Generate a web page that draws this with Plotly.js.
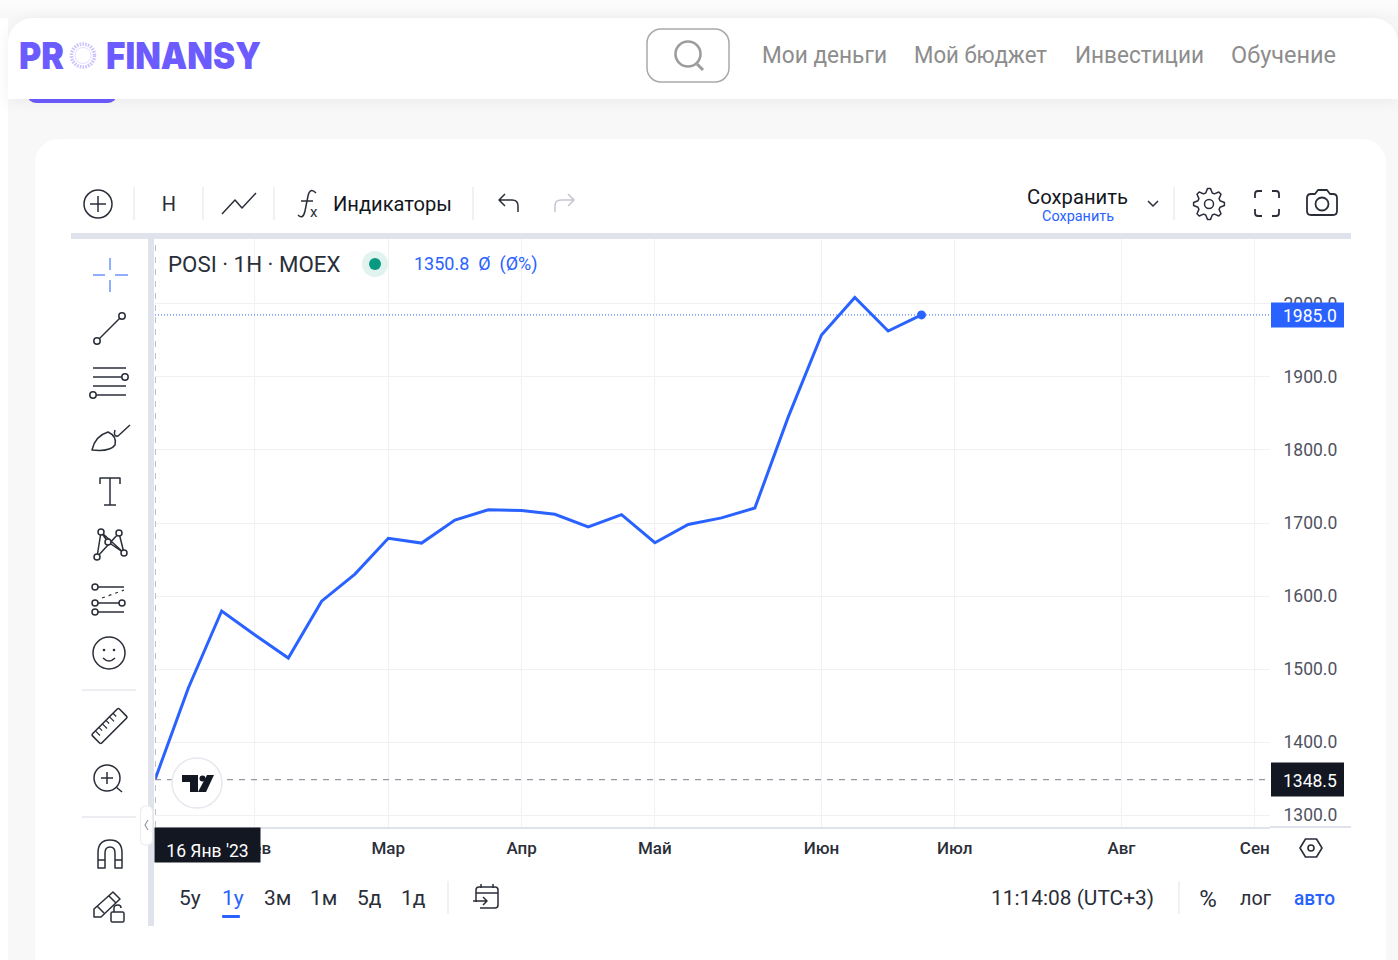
<!DOCTYPE html>
<html lang="ru">
<head>
<meta charset="utf-8">
<title>POSI · 1H · MOEX</title>
<script src="https://cdn.plot.ly/plotly-3.0.1.min.js"></script>
<style>
html,body{margin:0;padding:0;background:#fff;width:1398px;height:960px;overflow:hidden}
#bg,#fg,#chart{position:absolute;left:0;top:0;width:1398px;height:960px}
#fg{pointer-events:none}
svg text{font-family:Roboto,sans-serif}
</style>
</head>
<body>
<svg id="bg" viewBox="0 0 1398 960">
  <defs>
    <filter id="sh" x="-5%" y="-30%" width="110%" height="170%"><feDropShadow dx="0" dy="2" stdDeviation="7" flood-color="#000" flood-opacity="0.06"/></filter>
    <linearGradient id="topfade" x1="0" y1="0" x2="0" y2="1"><stop offset="0" stop-color="#fdfdfd"/><stop offset="1" stop-color="#f7f7f7"/></linearGradient>
  </defs>
  <rect x="8" y="0" width="1390" height="960" fill="#f8f8f8"/>
  <rect x="0" y="0" width="1398" height="18" fill="url(#topfade)"/>
  <rect x="27" y="85" width="90" height="18" rx="9" fill="#6c5bff"/>
  <path d="M8 99V43a25 25 0 0 1 25-25H1373a25 25 0 0 1 25 25V99Z" fill="#fff" filter="url(#sh)"/>
  <rect x="35" y="139" width="1351" height="850" rx="24" fill="#fff"/>
</svg>
<div id="chart"></div>
<svg id="fg" viewBox="0 0 1398 960"></svg>
<script>
// ---- chart data (weekly closes) ----
const dates = ["2023-01-16","2023-01-23","2023-01-30","2023-02-06","2023-02-13","2023-02-20","2023-02-27",
  "2023-03-06","2023-03-13","2023-03-20","2023-03-27","2023-04-03","2023-04-10","2023-04-17","2023-04-24",
  "2023-05-01","2023-05-08","2023-05-15","2023-05-22","2023-05-29","2023-06-05","2023-06-12","2023-06-19","2023-06-26"];
const closes = [1348.5,1474,1579.5,1546.5,1515,1593,1630,1679,1672.5,1704,1718,1717,1712,1694.5,1711.5,1673,1698,1707,1720.5,1845,1957.5,2009,1963,1985];
const monthTickDates = ["2023-02-06","2023-03-06","2023-04-03","2023-05-01","2023-06-05","2023-07-03","2023-08-07","2023-09-04"];
const monthTickLabels = ["Фев","Мар","Апр","Май","Июн","Июл","Авг","Сен"];
const priceTicks = [1300,1400,1500,1600,1700,1800,1900,2000];
const lastPrice = 1985;
const basePrice = 1348.5;
const symbolLabel = "POSI · 1H · MOEX";
const quoteLabel = "1350.8  Ø  (Ø%)";
const cursorDateLabel = "16 Янв '23";

const BLUE = "#2962ff", DARK = "#131722", FONT = "Roboto, sans-serif";
const first = dates[0], last = dates[dates.length - 1];

function priceTag(value, halfHeight, color) {
  return {type: "rect", layer: "above", xref: "paper", xsizemode: "pixel", xanchor: 1, x0: 1, x1: 74,
    yref: "y", ysizemode: "pixel", yanchor: value, y0: -halfHeight, y1: halfHeight,
    fillcolor: color, line: {width: 0}};
}
function priceText(value) {
  return {xref: "paper", yref: "y", x: 1, xshift: 40, y: value, yshift: -1, xanchor: "center", yanchor: "middle", text: value.toFixed(1),
    showarrow: false, font: {family: FONT, size: 17.5, color: "#fff"}};
}

const traces = [
  {x: dates, y: closes, type: "scatter", mode: "lines", line: {color: BLUE, width: 3, shape: "linear"}, hoverinfo: "x+y", cliponaxis: false},
  {x: [last], y: [lastPrice], type: "scatter", mode: "markers", marker: {color: BLUE, size: 9}, hoverinfo: "skip", cliponaxis: false}
];
const layout = {
  width: 1398, height: 960, autosize: false,
  margin: {l: 155, r: 128, t: 239, b: 133, pad: 0},
  paper_bgcolor: "rgba(0,0,0,0)", plot_bgcolor: "rgba(0,0,0,0)",
  showlegend: false, hovermode: false,
  font: {family: FONT, color: DARK},
  xaxis: {
    type: "date", range: ["2023-01-16", "2023-09-07 05:00"], fixedrange: true,
    tickmode: "array", tickvals: monthTickDates, ticktext: monthTickLabels,
    tickfont: {family: FONT, size: 17, color: "#2a2e39", weight: 500},
    ticks: "outside", ticklen: 5, tickcolor: "rgba(0,0,0,0)",
    showgrid: true, gridcolor: "#f0f1f5", gridwidth: 1,
    showline: true, linecolor: "#e0e3eb", linewidth: 2, zeroline: false
  },
  yaxis: {
    side: "right", range: [1283.6, 2089], fixedrange: true,
    tickmode: "array", tickvals: priceTicks, tickformat: ".1f",
    tickfont: {family: FONT, size: 17.5, color: "#50535e"},
    ticks: "outside", ticklen: 9, tickcolor: "rgba(0,0,0,0)",
    showgrid: true, gridcolor: "#f0f1f5", gridwidth: 1, zeroline: false, showline: false
  },
  shapes: [
    {type: "line", xref: "paper", x0: 0, x1: 1, yref: "y", y0: lastPrice, y1: lastPrice, line: {color: BLUE, width: 1, dash: "1px,2px"}},
    {type: "line", xref: "paper", x0: 0, x1: 1, yref: "y", y0: basePrice, y1: basePrice, line: {color: "#9598a1", width: 1.2, dash: "6px,6px"}},
    {type: "line", xref: "x", x0: first, x1: first, yref: "paper", y0: 0, y1: 1, line: {color: "#9598a1", width: 1.2, dash: "6px,6px"}},
    priceTag(lastPrice, 12.5, BLUE),
    priceTag(basePrice, 17, DARK)
  ],
  annotations: [
    priceText(lastPrice),
    priceText(basePrice),
    {xref: "x", yref: "paper", x: first, xshift: -1, y: 0, yshift: 0, xanchor: "left", yanchor: "top", text: cursorDateLabel, showarrow: false,
     width: 103, height: 32, valign: "bottom", bgcolor: DARK, font: {family: FONT, size: 17.5, color: "#fff"}},
    {xref: "paper", yref: "paper", x: 0, xshift: 11, y: 1, yshift: -25, xanchor: "left", yanchor: "middle", text: symbolLabel, showarrow: false,
     font: {family: FONT, size: 22.3, color: "#2a2e39"}},
    {xref: "paper", yref: "paper", x: 0, xshift: 257, y: 1, yshift: -25, xanchor: "left", yanchor: "middle", text: quoteLabel.replace(/ /g, "&nbsp;"), showarrow: false,
     font: {family: FONT, size: 18, color: BLUE}}
  ]
};

// ---- surrounding interface, drawn as plain SVG ----
const I = "#2a2e39";
function t(x, y, s, size, color, anchor, extra) {
  return `<text x="${x}" y="${y}" font-size="${size}" fill="${color}" text-anchor="${anchor || "start"}" dominant-baseline="central" ${extra || ""}>${s}</text>`;
}
function line(a, b, c, d, col, w, extra) { return `<line x1="${a}" y1="${b}" x2="${c}" y2="${d}" stroke="${col || I}" stroke-width="${w || 1.5}" ${extra || ""}/>`; }
function circ(x, y, r, fill, stroke, w) { return `<circle cx="${x}" cy="${y}" r="${r}" fill="${fill || "#fff"}" stroke="${stroke || I}" stroke-width="${w || 1.5}"/>`; }
function p(d, stroke, w, fill) { return `<path d="${d}" fill="${fill || "none"}" stroke="${stroke || I}" stroke-width="${w || 1.5}" stroke-linejoin="round"/>`; }
function gear(cx, cy, r1, r2, n) {
  let d = "";
  for (let i = 0; i < n * 4; i++) {
    const a = (i - 0.5) * Math.PI * 2 / (n * 4), r = (i % 4 < 2) ? r2 : r1;
    d += (i ? "L" : "M") + (cx + r * Math.cos(a)).toFixed(1) + " " + (cy + r * Math.sin(a)).toFixed(1);
  }
  return d + "Z";
}
let h = "";
// logo
const LOGO = "#6c5bff";
h += t(19, 55, "PR", 37, LOGO, "start", 'font-weight="900" textLength="45" lengthAdjust="spacingAndGlyphs" style="font-family:Inter,Roboto,sans-serif"');
h += t(106, 55, "FINANSY", 37, LOGO, "start", 'font-weight="900" textLength="155" lengthAdjust="spacingAndGlyphs" style="font-family:Inter,Roboto,sans-serif"');
h += `<circle cx="83" cy="55.5" r="11.5" fill="none" stroke="#c9c2ff" stroke-width="3.5" stroke-dasharray="1.6 1.2"/><circle cx="83" cy="55.5" r="8" fill="none" stroke="#e2dfff" stroke-width="1"/>`;
// search
h += `<rect x="647" y="29" width="82" height="53" rx="14" fill="#fff" stroke="#a9a9a9" stroke-width="1.5"/>`;
h += circ(688, 54, 12.5, "none", "#9c9c9c", 2.6) + line(697, 64, 703, 70, "#9c9c9c", 3);
// nav
[["Мои деньги", 762, 125], ["Мой бюджет", 914, 133], ["Инвестиции", 1075, 129], ["Обучение", 1231, 105]].forEach(n => {
  h += t(n[1], 55, n[0], 24, "#8d8d8d", "start", `textLength="${n[2]}" lengthAdjust="spacingAndGlyphs"`);
});
// top toolbar
[134, 203, 274, 473, 1174].forEach(x => { h += line(x, 187, x, 220, "#e6e8ee", 1.2); });
h += circ(98, 204, 14, "none") + line(98, 196, 98, 212) + line(90, 204, 106, 204);
h += t(169, 204, "H", 20, I, "middle");
h += p("M222 214L235 200L242 208L256 193");
h += p("M316 193Q310 187 308 196L305 211Q303 220 298 215M301 201H313");
h += t(310, 212, "x", 15, I);
h += t(333, 204, "Индикаторы", 21, DARK, "start", 'textLength="119" lengthAdjust="spacingAndGlyphs"');
h += p("M518 212V206Q518 200 512 200H499M505 194L499 200L505 206");
h += p("M555 212V206Q555 200 561 200H574M568 194L574 200L568 206", "#c4c6cf");
h += t(1027, 197, "Сохранить", 21, DARK, "start", 'textLength="101" lengthAdjust="spacingAndGlyphs"');
h += t(1078, 216, "Сохранить", 15, BLUE, "middle", 'textLength="72" lengthAdjust="spacingAndGlyphs"');
h += p("M1148 201L1153 206L1158 201");
h += p(gear(1209, 204, 11.5, 15.5, 8)) + circ(1209, 204, 4.5, "none");
h += p("M1255 198V194Q1255 191 1258 191H1262M1272 191H1276Q1279 191 1279 194V198M1279 209V213Q1279 216 1276 216H1272M1262 216H1258Q1255 216 1255 213V209", I, 1.8);
h += p("M1307 198Q1307 194 1311 194H1315L1318 190H1327L1330 194H1333Q1337 194 1337 198V211Q1337 215 1333 215H1311Q1307 215 1307 211Z", I, 1.8) + circ(1322, 204, 6.5, "none", I, 1.8);
// frame bars
h += `<rect x="71" y="233" width="1280" height="6" fill="#e0e3eb"/>`;
h += `<rect x="148" y="239" width="6" height="687" fill="#e0e3eb"/>`;
h += line(1270, 827, 1351, 827, "#e0e3eb", 2);
// left toolbar
const C = "#6b93ff";
h += line(110, 258, 110, 270, C) + line(110, 280, 110, 292, C) + line(93, 275, 105, 275, C) + line(115, 275, 128, 275, C);
h += line(97, 341, 122, 316) + circ(97, 341, 3.2) + circ(122, 316, 3.2);
[368, 377, 386, 395].forEach(y => { h += line(93, y, 126, y); });
h += circ(125, 377, 3.2) + circ(93, 395, 3.2);
h += p("M92 450Q95 436 108 432Q117 436 115 445Q110 452 92 450Z") + p("M115 430Q113 437 118 436L130 425");
h += p("M100 484V478H120V484") + line(110, 478, 110, 505) + line(104, 505, 116, 505);
h += p("M97 557L101 532L124 553L119 533L97 557M101 532L108 542L124 553") ;
[[97, 557], [101, 532], [119, 533], [124, 553], [108, 542]].forEach(c => { h += circ(c[0], c[1], 3); });
h += line(95, 587, 124, 587) + line(95, 603, 123, 603) + line(95, 612, 124, 612) + line(102, 598, 124, 590, I, 1.2, 'stroke-dasharray="3 4"');
h += circ(95, 587, 3) + circ(95, 603, 3) + circ(122, 603, 3) + circ(95, 612, 3);
h += circ(109, 653, 16, "none") + `<circle cx="104" cy="650" r="1.3" fill="${I}"/><circle cx="114" cy="650" r="1.3" fill="${I}"/>` + p("M103 658Q109 664 115 658");
h += line(82, 690, 136, 690, "#e6e8ee", 1.5) + line(82, 817, 136, 817, "#e6e8ee", 1.5);
h += `<g transform="rotate(-45 109.5 726)"><rect x="90.5" y="719.5" width="38" height="13" rx="1.5" fill="none" stroke="${I}" stroke-width="1.6"/>`;
[96, 101, 106, 111, 116, 121].forEach((x, i) => { h += line(x, 719.5, x, i % 2 ? 724 : 726, I, 1.2); });
h += `</g>`;
h += circ(107, 778, 13, "none") + line(107, 772, 107, 784) + line(101, 778, 113, 778) + line(116, 787, 122, 792);
h += p("M98 868V853Q98 840 110 840Q122 840 122 853V868H115V853Q115 847 110 847Q105 847 105 853V868ZM98 860H105M115 860H122");
h += p("M94 909L113 892L120 899L101 917H94ZM109 896L116 903M97 906L104 913") + `<rect x="111" y="912" width="13" height="10" rx="1.5" fill="#fff" stroke="${I}" stroke-width="1.5"/>` + p("M114 912V908Q114 905 118 905Q121 905 121 908");
// collapse tab
h += `<rect x="140.5" y="806" width="12" height="39" rx="5" fill="#fff" stroke="#eceef2" stroke-width="1.2"/>` + p("M148 820L145 825L148 830", "#9598a1", 1.2);
// TradingView mark
h += circ(197, 783, 25, "#fff", "#e6e8ee", 1.5);
h += `<path d="M182 775H198V792H190V782H182Z" fill="${DARK}"/><circle cx="202.5" cy="778.5" r="3" fill="${DARK}"/><path d="M207 775H214L206 792H198Z" fill="${DARK}"/>`;
// legend status dot
h += `<circle cx="375" cy="264" r="13" fill="#e0f3ef"/><circle cx="375" cy="264" r="6" fill="#089981"/>`;
// hexagon
h += p("M1300 848L1305.5 839H1316.5L1322 848L1316.5 857H1305.5Z", I, 1.6) + circ(1311, 848, 3, "none", I, 1.6);
// bottom toolbar
[["5у", 179, 0], ["1у", 222, 1], ["3м", 264, 0], ["1м", 310, 0], ["5д", 357, 0], ["1д", 401, 0]].forEach(b => {
  h += t(b[1], 898, b[0], 21, b[2] ? BLUE : I);
});
h += `<rect x="222" y="915" width="18" height="3" rx="1" fill="${BLUE}"/>`;
h += line(448, 881, 448, 914, "#e6e8ee", 1.2) + line(1179, 881, 1179, 914, "#e6e8ee", 1.2);
h += p("M476 902V890Q476 887 479 887H495Q498 887 498 890V905Q498 908 495 908H480M476 893H498M481 884V888M493 884V888M473 901H487M483 897L487 901L483 905");
h += t(991, 898, "11:14:08 (UTC+3)", 20, I, "start", 'textLength="163" lengthAdjust="spacingAndGlyphs"');
h += t(1208, 899, "%", 24, I, "middle");
h += t(1240, 898, "лог", 20, I, "start", 'textLength="31" lengthAdjust="spacingAndGlyphs"');
h += t(1294, 898, "авто", 20, BLUE, "start", 'font-weight="500" textLength="41" lengthAdjust="spacingAndGlyphs"');
document.getElementById("fg").innerHTML = h;

Plotly.newPlot("chart", traces, layout, {displayModeBar: false, staticPlot: false, responsive: false});
</script>
</body>
</html>
